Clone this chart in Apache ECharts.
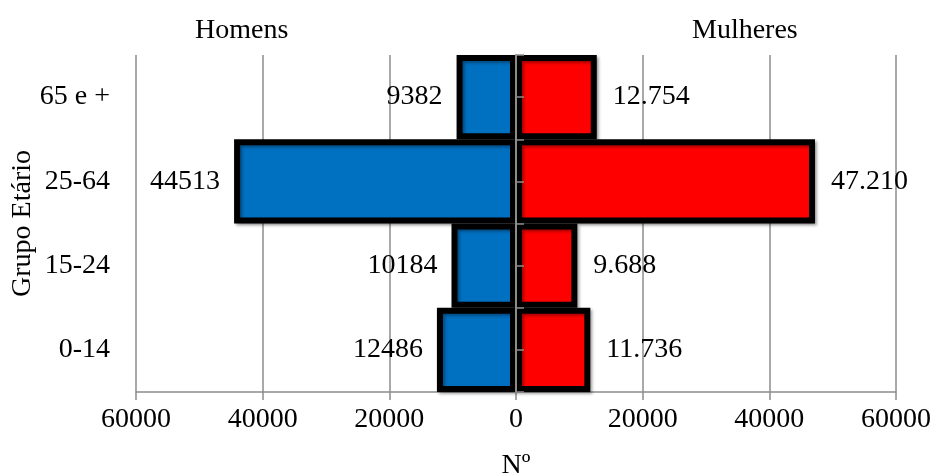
<!DOCTYPE html>
<html>
<head>
<meta charset="utf-8">
<script src="https://cdn.jsdelivr.net/npm/echarts@6/dist/echarts.min.js"></script>
<style>
  html, body { margin: 0; padding: 0; background: #fff; }
  #chart { width: 935px; height: 473px; }
</style>
</head>
<body>
<div id="chart"></div>
<script>
// Age groups, bottom to top
const ageGroups = ['0-14', '15-24', '25-64', '65 e +'];
// Population counts per age group
const homens = [12486, 10184, 44513, 9382];
const mulheres = [11736, 9688, 47210, 12754];
const seriesNames = ['Homens', 'Mulheres'];
const xTicks = [-60000, -40000, -20000, 0, 20000, 40000, 60000];

const FONT = '"Liberation Serif", serif';
const FS = 28;
const GREY = '#8c8c8c';

// Thousands separator with a dot
function dotted(v) {
  return String(Math.abs(v)).replace(/\B(?=(\d{3})+(?!\d))/g, '.');
}

const chart = echarts.init(document.getElementById('chart'));
const grid = { left: 136, right: 39, top: 55, bottom: 81, containLabel: false, outerBoundsMode: 'none' };

chart.setOption({
  animation: false,
  textStyle: { fontFamily: FONT, color: '#000' },
  grid: grid,
  xAxis: {
    type: 'value',
    min: xTicks[0],
    max: xTicks[xTicks.length - 1],
    interval: 20000,
    name: 'Nº',
    nameLocation: 'middle',
    nameGap: 60,
    nameMoveOverlap: false,
    nameTextStyle: { fontFamily: FONT, fontSize: FS, color: '#000' },
    axisLine: { show: true, lineStyle: { color: GREY, width: 1.5 } },
    axisTick: { show: true, length: 8, lineStyle: { color: GREY, width: 1.5 } },
    axisLabel: {
      fontFamily: FONT, fontSize: FS, color: '#000', margin: 14,
      formatter: v => String(Math.abs(v))
    },
    splitLine: { show: true, lineStyle: { color: GREY, width: 1.5 } }
  },
  yAxis: [
    {
      type: 'category',
      data: ageGroups,
      position: 'left',
      name: 'Grupo Etário',
      nameLocation: 'middle',
      nameGap: 99,
      nameRotate: 90,
      nameMoveOverlap: false,
      nameTextStyle: { fontFamily: FONT, fontSize: FS, color: '#000' },
      axisLine: { show: false, onZero: false },
      axisTick: { show: false },
      axisLabel: { fontFamily: FONT, fontSize: FS, color: '#000', margin: 26 }
    },
    {
      // Zero line with ticks at band edges and band centres, drawn over the bars
      type: 'category',
      data: ['', '', '', '', '', '', '', ''],
      position: 'left',
      z: 10,
      axisLine: { show: true, onZero: true, lineStyle: { color: GREY, width: 2 } },
      axisTick: { show: true, inside: true, length: 8, lineStyle: { color: GREY, width: 1.5 } },
      axisLabel: { show: false },
      splitLine: { show: false }
    }
  ],
  graphic: [
    {
      type: 'text', left: 245 - 50, top: 17,
      style: { text: seriesNames[0], font: FS + 'px ' + FONT, fill: '#000', width: 100, textAlign: 'center' }
    },
    {
      type: 'text', left: 742 - 50, top: 17,
      style: { text: seriesNames[1], font: FS + 'px ' + FONT, fill: '#000', width: 100, textAlign: 'center' }
    }
  ],
  series: [
    {
      name: seriesNames[0],
      type: 'bar',
      yAxisIndex: 0,
      barGap: '-100%',
      barCategoryGap: 0,
      data: homens.map(v => -v),
      itemStyle: {
        color: '#0070C0', borderColor: '#000', borderWidth: 6,
        shadowColor: 'rgba(0,0,0,0.35)', shadowBlur: 3, shadowOffsetX: 2, shadowOffsetY: 2
      },
      label: {
        show: true, position: 'left', distance: 14,
        fontFamily: FONT, fontSize: FS, color: '#000',
        formatter: p => String(Math.abs(p.value))
      }
    },
    {
      name: seriesNames[1],
      type: 'bar',
      yAxisIndex: 0,
      barGap: '-100%',
      barCategoryGap: 0,
      data: mulheres,
      itemStyle: {
        color: '#FF0000', borderColor: '#000', borderWidth: 6,
        shadowColor: 'rgba(0,0,0,0.35)', shadowBlur: 3, shadowOffsetX: 2, shadowOffsetY: 2
      },
      label: {
        show: true, position: 'right', distance: 16,
        fontFamily: FONT, fontSize: FS, color: '#000',
        formatter: p => dotted(p.value)
      }
    }
  ]
});
</script>
</body>
</html>
